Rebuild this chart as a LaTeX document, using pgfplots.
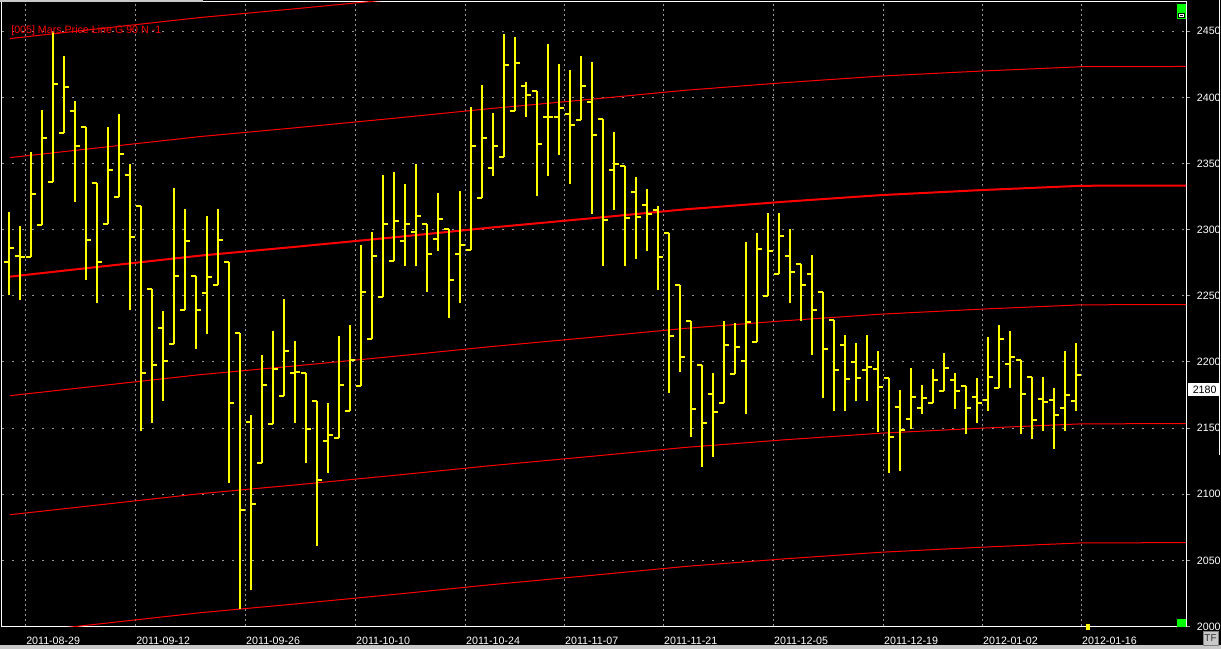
\documentclass[border=0pt]{standalone}
\usepackage{pgfplots}
\pgfplotsset{compat=1.18}
\usepackage{pgfplotstable}
\usepackage{fontspec}
\setmainfont{Liberation Sans}
\definecolor{yel}{RGB}{255,255,0}
\definecolor{grd}{RGB}{150,150,150}
\definecolor{grn}{RGB}{0,255,0}
\definecolor{btn}{RGB}{200,200,200}

\pgfdeclareplotmark{ohlcopen}{\pgfpathmoveto{\pgfqpoint{-3.75pt}{0pt}}\pgfpathlineto{\pgfqpoint{0pt}{0pt}}\pgfusepathqstroke}
\pgfdeclareplotmark{ohlcclose}{\pgfpathmoveto{\pgfqpoint{0pt}{0pt}}\pgfpathlineto{\pgfqpoint{3.75pt}{0pt}}\pgfusepathqstroke}

\pgfplotstableread{
i o h l c
0 2275.8 2313.4 2250.3 2285.9
1 2280.4 2303.0 2246.5 2279.5
2 2279.5 2358.8 2279.5 2327.3
3 2303.8 2390.7 2303.8 2369.5
4 2336.2 2449.1 2336.2 2409.8
5 2373.0 2431.5 2373.0 2407.7
6 2390.1 2397.3 2320.9 2363.4
7 2377.3 2377.3 2261.6 2292.5
8 2335.1 2335.1 2244.2 2275.2
9 2304.4 2377.3 2304.4 2345.5
10 2325.0 2387.5 2325.0 2357.4
11 2341.7 2349.8 2239.0 2294.3
12 2317.7 2317.7 2147.6 2191.8
13 2254.9 2254.9 2154.2 2197.9
14 2226.0 2238.7 2170.7 2200.8
15 2213.8 2331.6 2213.8 2265.1
16 2239.6 2315.7 2239.6 2291.1
17 2265.3 2265.3 2210.1 2239.6
18 2252.3 2310.5 2221.4 2264.5
19 2258.4 2315.7 2258.4 2292.5
20 2275.2 2275.2 2108.8 2169.3
21 2222.2 2222.2 2013.6 2087.7
22 2154.8 2160.0 2027.5 2092.9
23 2123.8 2205.4 2123.8 2182.9
24 2153.3 2223.4 2153.3 2194.7
25 2174.5 2247.7 2174.5 2208.3
26 2191.8 2215.9 2154.2 2192.7
27 2191.8 2191.8 2123.8 2149.0
28 2170.7 2170.7 2060.7 2111.1
29 2140.3 2169.0 2116.3 2145.0
30 2142.6 2219.6 2142.6 2182.9
31 2163.2 2228.0 2163.2 2201.7
32 2182.0 2288.5 2182.0 2253.2
33 2217.6 2298.3 2217.6 2280.4
34 2249.4 2341.5 2249.4 2304.4
35 2276.6 2343.8 2276.6 2306.7
36 2291.7 2334.5 2272.3 2304.4
37 2298.6 2349.8 2272.3 2310.2
38 2304.1 2304.1 2253.2 2281.8
39 2293.1 2327.9 2284.2 2308.2
40 2300.6 2300.6 2232.9 2262.2
41 2281.3 2329.3 2244.2 2288.5
42 2284.7 2393.0 2284.7 2363.4
43 2324.1 2409.5 2324.1 2369.5
44 2347.0 2388.3 2340.9 2363.4
45 2355.1 2448.0 2355.1 2424.8
46 2390.1 2445.9 2390.1 2426.2
47 2408.3 2411.8 2385.4 2401.9
48 2405.1 2405.1 2325.2 2364.9
49 2385.4 2440.4 2340.3 2384.9
50 2384.9 2425.4 2356.5 2391.8
51 2387.8 2420.8 2334.8 2378.8
52 2383.1 2431.5 2383.1 2408.9
53 2396.2 2426.8 2312.2 2371.8
54 2384.0 2384.0 2272.9 2307.6
55 2345.5 2373.9 2315.1 2349.8
56 2347.8 2347.8 2272.3 2309.0
57 2328.7 2340.0 2278.1 2309.9
58 2318.9 2330.7 2283.6 2311.6
59 2315.1 2317.7 2254.1 2279.5
60 2297.8 2297.8 2176.2 2219.9
61 2258.4 2258.4 2192.1 2204.0
62 2231.2 2231.2 2142.9 2164.6
63 2197.9 2197.9 2120.9 2154.0
64 2175.9 2191.8 2128.5 2162.3
65 2169.3 2230.9 2169.3 2213.0
66 2191.0 2229.2 2191.0 2211.5
67 2201.1 2290.8 2160.9 2230.0
68 2215.3 2297.5 2215.3 2285.6
69 2250.0 2312.8 2250.0 2284.2
70 2266.5 2312.8 2266.5 2294.9
71 2280.4 2300.4 2244.2 2268.2
72 2274.3 2274.3 2230.6 2258.4
73 2266.8 2281.0 2204.9 2239.6
74 2253.2 2253.2 2173.0 2210.1
75 2232.1 2232.1 2163.2 2194.2
76 2213.0 2220.5 2162.6 2187.2
77 2200.2 2214.4 2170.4 2188.1
78 2194.2 2220.5 2170.4 2196.5
79 2195.0 2208.3 2147.3 2181.4
80 2188.1 2188.1 2116.3 2143.5
81 2166.1 2178.8 2117.7 2148.4
82 2157.1 2195.6 2149.0 2173.6
83 2165.5 2182.6 2160.9 2173.0
84 2169.3 2194.7 2169.3 2186.6
85 2177.7 2206.9 2177.7 2195.6
86 2186.6 2191.8 2164.1 2178.2
87 2182.0 2182.0 2145.2 2165.5
88 2173.6 2187.8 2154.2 2169.3
89 2171.3 2219.0 2162.6 2188.9
90 2180.5 2228.0 2180.5 2217.6
91 2198.8 2223.4 2180.0 2204.0
92 2201.7 2201.7 2145.8 2175.9
93 2188.9 2188.9 2141.5 2155.9
94 2172.2 2188.7 2148.1 2169.8
95 2171.3 2180.3 2134.5 2160.0
96 2165.5 2208.3 2148.1 2175.3
97 2170.7 2214.4 2162.6 2189.8
}\ohlc

\begin{document}
\begin{tikzpicture}
\fill[black] (-1.5pt,-16.875pt) rectangle (914.25pt,469.875pt);
\begin{axis}[
  at={(0pt,0pt)}, anchor=south west,
  scale only axis, width=888pt, height=468.375pt,
  xmin=-0.62, xmax=107.02, ymin=2000, ymax=2472.15,
  axis background/.style={fill=black},
  axis line style={white, line width=0.75pt},
  xtick={1.5,11.5,21.5,31.5,41.5,50.5,59.5,69.5,79.5,88.5,97.5},
  xticklabels={2011-08-29,2011-09-12,2011-09-26,2011-10-10,2011-10-24,2011-11-07,2011-11-21,2011-12-05,2011-12-19,2012-01-02,2012-01-16},
  ytick={2000,2050,...,2450},
  ytick pos=right, yticklabel pos=right, xtick pos=bottom,
  tick align=outside, major tick length=3pt,
  xtick style={draw=none},
  ytick style={draw=gray!70, line width=0.75pt},
  grid=major,
  x grid style={grd, line width=0.75pt, dash pattern=on 1.5pt off 2.25pt},
  y grid style={grd, line width=0.75pt, dash pattern=on 1.5pt off 6pt},
  tick label style={font=\fontsize{8}{9.6}\selectfont, text=white},
  xticklabel style={anchor=west, inner sep=0pt, yshift=-7.6pt, xshift=0.5pt},
  yticklabel style={anchor=west, inner sep=0pt, xshift=5pt},
  /pgf/number format/1000 sep={},
  /pgf/number format/assume math mode=true,
  scaled y ticks=false,
]
% Mars price lines (G 90)
\addplot[red, line width=0.75pt] coordinates {(0.1,2444.5) (17.4,2460.4) (26,2467.0) (35.1,2474.3) (43.7,2481.5)};
\addplot[red, line width=0.75pt] coordinates {(0.1,2354.5) (17.4,2370.4) (26,2377.0) (35.1,2384.3) (43.7,2391.5) (52.8,2398.5) (61.5,2405.4) (70.6,2411.2) (79.2,2416.1) (88.3,2419.9) (97.5,2423.2) (107.02,2423.4)};
\addplot[red, line width=1.5pt] coordinates {(0.1,2264.5) (17.4,2280.4) (26,2287.0) (35.1,2294.3) (43.7,2301.5) (52.8,2308.5) (61.5,2315.4) (70.6,2321.2) (79.2,2326.1) (88.3,2329.9) (97.5,2333.2) (107.02,2333.4)};
\addplot[red, line width=0.75pt] coordinates {(0.1,2174.5) (17.4,2190.4) (26,2197.0) (35.1,2204.3) (43.7,2211.5) (52.8,2218.5) (61.5,2225.4) (70.6,2231.2) (79.2,2236.1) (88.3,2239.9) (97.5,2243.2) (107.02,2243.4)};
\addplot[red, line width=0.75pt] coordinates {(0.1,2084.5) (17.4,2100.4) (26,2107.0) (35.1,2114.3) (43.7,2121.5) (52.8,2128.5) (61.5,2135.4) (70.6,2141.2) (79.2,2146.1) (88.3,2149.9) (97.5,2153.2) (107.02,2153.4)};
\addplot[red, line width=0.75pt] coordinates {(0.1,1994.5) (17.4,2010.4) (26,2017.0) (35.1,2024.3) (43.7,2031.5) (52.8,2038.5) (61.5,2045.4) (70.6,2051.2) (79.2,2056.1) (88.3,2059.9) (97.5,2063.2) (107.02,2063.4)};
% OHLC bars
\addplot[draw=none, mark=none, error bars/.cd, y dir=plus, y explicit, error mark=none, error bar style={draw=yel, solid, line width=1.5pt}]
  table[x=i, y=l, y error plus expr=\thisrow{h}-\thisrow{l}] {\ohlc};
\addplot[only marks, mark=ohlcopen, mark options={draw=yel, line width=1.5pt}] table[x=i, y=o] {\ohlc};
\addplot[only marks, mark=ohlcclose, mark options={draw=yel, line width=1.5pt}] table[x=i, y=c] {\ohlc};
\node[anchor=west, inner sep=0pt, text=red, font=\fontsize{8}{9.6}\selectfont] at (axis cs:0.2,2450.6) {[005] Mars Price Line G 90 N -1};
\end{axis}
% decorations
\fill[btn] (-1.5pt,469.875pt) rectangle (150.75pt,468.7pt);
\fill[btn] (-1.5pt,-16.875pt) rectangle (914.25pt,-14.2pt);
\draw[white, line width=0.75pt] (912.75pt,469.875pt) -- (912.75pt,128.6pt);
\fill[grn] (881.25pt,460.9pt) rectangle (888pt,466.9pt);
\fill[grn] (881.25pt,455.5pt) rectangle (888pt,460.9pt);
\fill[black] (882pt,456.2pt) rectangle (887.2pt,460.2pt);
\draw[white, line width=0.6pt] (883.3pt,457.2pt) rectangle (886pt,459.3pt);
\fill[grn] (881.25pt,-0.375pt) rectangle (888pt,5.6pt);
\fill[yel] (813pt,-2.6pt) rectangle (816pt,1.9pt);
\node[fill=white, text=black, inner sep=0pt, minimum width=23.25pt, minimum height=9.75pt, anchor=west, font=\fontsize{8}{9.6}\selectfont] at (889.5pt,177.75pt) {\,2180};
\node[fill=btn, draw=gray, line width=0.5pt, text=black!80, inner sep=0pt, minimum width=11.5pt, minimum height=11pt, anchor=center, font=\fontsize{7.5}{9}\selectfont] at (906.4pt,-9pt) {TF};
\pgfresetboundingbox
\useasboundingbox (-1.5pt,-16.875pt) rectangle (914.25pt,469.875pt);
\end{tikzpicture}
\end{document}
